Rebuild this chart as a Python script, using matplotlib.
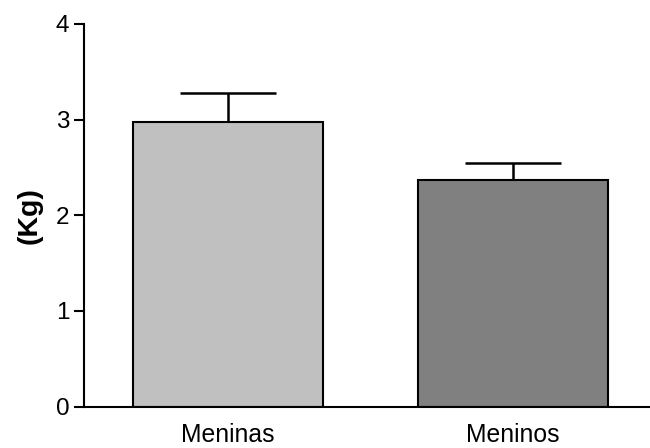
import matplotlib.pyplot as plt

plt.rcParams['font.family'] = ['Liberation Sans', 'DejaVu Sans']

grupos = ['Meninas', 'Meninos']
medias = [2.98, 2.37]
erros = [0.30, 0.18]
cores = ['#c0c0c0', '#808080']

fig = plt.figure(figsize=(6.5, 4.48), dpi=100)
ax = fig.add_axes([84/650, 1 - 406.5/448, 1 - 84/650, (406.5 - 24)/448])

pos = range(len(grupos))
ax.bar(pos, medias, width=0.667, color=cores, edgecolor='black', linewidth=1.5, zorder=2)
# só a barra de erro para cima
eb = ax.errorbar(pos, medias, yerr=[[0] * len(erros), erros], fmt='none',
                 ecolor='black', elinewidth=1.8, capsize=34.5, capthick=1.8, zorder=3)
for cap in eb[1]:
    if list(cap.get_ydata()) == list(medias):
        cap.set_visible(False)

ax.set_xlim(-0.505, 1.48)
ax.set_ylim(0, 4)
ax.set_yticks([0, 1, 2, 3, 4])
ax.set_xticks(list(pos))
ax.set_xticklabels(grupos, fontsize=17.8)
ax.tick_params(axis='y', labelsize=17.5, length=7, width=1.5, pad=3.5)
ax.tick_params(axis='x', length=0, pad=12)

for s in ['top', 'right']:
    ax.spines[s].set_visible(False)
for s in ['left', 'bottom']:
    ax.spines[s].set_linewidth(1.5)

ax.set_ylabel('(Kg)', fontsize=20.5, fontweight='bold')
ax.yaxis.set_label_coords(-0.0724, 0.5)

plt.savefig('out.png', dpi=100)
